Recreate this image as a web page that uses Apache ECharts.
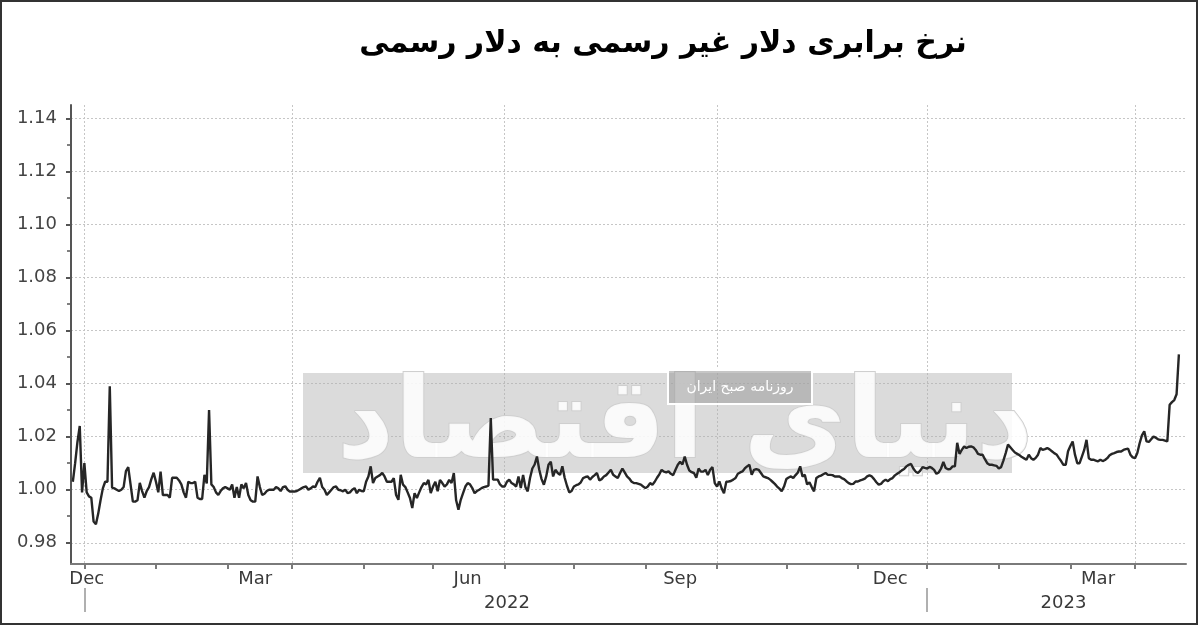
<!DOCTYPE html>
<html><head><meta charset="utf-8">
<script src="https://cdn.jsdelivr.net/npm/echarts@6/dist/echarts.min.js"></script>
<style>html,body{margin:0;padding:0;background:#fff}#c{width:1200px;height:627px}</style>
</head><body><div id="c"></div>
<script>
const titleText = 'نرخ برابری دلار غیر رسمی به دلار رسمی';
const watermarkText = 'دنیای اقتصاد';
const watermarkSub = 'روزنامه صبح ایران';
// daily values starting 2021-11-26
const firstDay = '2021-11-26';
const ratesNov21toFeb22 = [
1.003,1.010,1.018,1.024,0.999,1.010,0.999,0.9975,0.997,0.988,
0.987,0.991,0.996,1.0005,1.003,1.003,1.039,1.0008,1.0005,1.000,
0.9995,1.000,1.001,1.007,1.0085,1.002,0.9955,0.9955,0.996,1.0026,
0.9995,0.997,0.9995,1.001,1.004,1.0064,1.003,0.999,1.0068,0.998,
0.998,0.998,0.997,1.0045,1.0045,1.0045,1.0035,1.002,0.999,0.997,
1.003,1.0025,1.0025,1.003,0.997,0.9965,0.9965,1.0056,1.0024,1.030,
1.002,1.001,0.999,0.998,0.9995,1.0005,1.001,1.0005,1.000,1.002,
0.997,1.001,0.997,1.002,1.0005,1.0025,0.998,0.996,0.9955,0.9955,
1.005,1.001,0.998,0.9985,0.9995,1.000,1.000,1.000,1.001,1.0005,
0.9995,1.001,1.0013,1.000,0.9993];
const ratesMar22toMay22 = [
0.9993,0.9993,0.9995,1.000,1.0005,1.001,1.0012,1.000,1.0005,1.0012,
1.001,1.003,1.0045,1.001,1.000,0.998,0.999,1.000,1.001,1.0012,
1.000,0.9998,0.9994,1.000,0.9987,0.999,1.000,1.0006,0.9987,1.000,
0.9995,0.9994,1.003,1.005,1.0088,1.0025,1.0044,1.005,1.0055,1.0063,
1.005,1.003,1.003,1.003,1.0044,0.998,0.9962,1.0056,1.0019,1.001,
0.999,0.9969,0.9931,0.9987,0.9969,0.999,1.001,1.0025,1.002,1.0037,
0.9987,1.0012,1.003,0.9994,1.0037,1.0025,1.0012,1.002,1.0037,1.0025,
1.0063,0.996,0.9925,0.9962,0.9987,1.0012,1.0025,1.002,1.0006,0.9987,
0.9995,1.000,1.0006,1.001,1.0012,1.0015,1.027,1.0038,1.0038,1.0038,
1.002,1.0012];
const ratesJun22toAug22 = [
1.0012,1.003,1.0038,1.0025,1.002,1.0012,1.005,1.0006,1.0056,1.001,
0.9994,1.0044,1.008,1.0095,1.0125,1.0075,1.004,1.0019,1.005,1.0094,
1.0106,1.005,1.0075,1.0063,1.0056,1.0088,1.0045,1.0015,0.999,0.9995,
1.0012,1.0017,1.002,1.0028,1.0044,1.0048,1.005,1.0038,1.0048,1.0055,
1.0063,1.0035,1.004,1.005,1.0055,1.0065,1.0075,1.0056,1.005,1.0044,
1.0063,1.008,1.0065,1.005,1.0042,1.003,1.0025,1.0025,1.0022,1.0019,
1.0012,1.0006,1.0012,1.0025,1.0019,1.003,1.0045,1.0058,1.0075,1.0068,
1.0065,1.0069,1.006,1.0055,1.0075,1.0094,1.0105,1.0095,1.0125,1.0094,
1.0072,1.0066,1.0063,1.0045,1.008,1.0068,1.0068,1.0075,1.0055,1.0075,
1.0085,1.0025];
const ratesSep22toNov22 = [
1.0012,1.0031,1.0005,0.9987,1.003,1.0031,1.0033,1.0038,1.0044,1.006,
1.0065,1.0069,1.008,1.0088,1.0094,1.0056,1.0075,1.0078,1.0075,1.0063,
1.005,1.0047,1.0044,1.0038,1.003,1.0022,1.0012,1.0004,0.9994,1.0012,
1.004,1.0046,1.005,1.0044,1.0055,1.0065,1.0088,1.005,1.0056,1.002,
1.0028,1.001,0.9994,1.0044,1.005,1.0053,1.0058,1.0063,1.0056,1.0056,
1.0055,1.005,1.005,1.005,1.0044,1.004,1.0032,1.0025,1.0021,1.0022,
1.0031,1.0031,1.0035,1.0038,1.0042,1.005,1.0054,1.005,1.004,1.0028,
1.0019,1.0022,1.0032,1.0038,1.0032,1.004,1.0044,1.0054,1.006,1.0066,
1.0073,1.0078,1.0088,1.0094,1.0097,1.008,1.0068,1.0063,1.0072,1.0085,
1.0082];
const ratesDec22toMar23 = [
1.008,1.0086,1.0082,1.0075,1.006,1.0065,1.008,1.0105,1.0082,1.0077,
1.0078,1.0088,1.0088,1.0177,1.0135,1.015,1.0163,1.0157,1.0162,1.0163,
1.016,1.015,1.0135,1.0132,1.0132,1.0115,1.01,1.0094,1.0094,1.0092,
1.009,1.008,1.0085,1.011,1.0138,1.017,1.016,1.015,1.014,1.0135,
1.013,1.0123,1.0118,1.0113,1.0132,1.0119,1.0113,1.012,1.0132,1.0157,
1.015,1.0153,1.0157,1.0152,1.0145,1.0138,1.0133,1.012,1.0108,1.0094,
1.0094,1.0145,1.0165,1.0182,1.0132,1.01,1.01,1.0125,1.015,1.0188,
1.0119,1.0113,1.0113,1.011,1.0107,1.0113,1.0108,1.0112,1.0119,1.013,
1.0135,1.0138,1.0142,1.0144,1.0144,1.015,1.0153,1.0155,1.0132,1.0122,
1.0119,1.0138,1.0175,1.0205,1.022,1.0182,1.018,1.019,1.02,1.0196,
1.019,1.0188,1.0188,1.0185,1.0182,1.032,1.033,1.0338,1.036,1.051];

const yLabelValues = [0.98,1.00,1.02,1.04,1.06,1.08,1.10,1.12,1.14];
const yMinorTicks = [0.98,0.99,1.00,1.01,1.02,1.03,1.04,1.05,1.06,1.07,1.08,1.09,1.10,1.11,1.12,1.13,1.14];
const quarterStarts = ['2021-12-01','2022-03-01','2022-06-01','2022-09-01','2022-12-01','2023-03-01'];
const monthStarts = ['2021-12-01','2022-01-01','2022-02-01','2022-03-01','2022-04-01','2022-05-01','2022-06-01','2022-07-01','2022-08-01','2022-09-01','2022-10-01','2022-11-01','2022-12-01','2023-01-01','2023-02-01','2023-03-01'];
const monthLabelDates = ['2021-12-02','2022-02-13','2022-05-16','2022-08-16','2022-11-15','2023-02-13'];
const monthLabels = ['Dec','Mar','Jun','Sep','Dec','Mar'];
const yearLabelDates = ['2022-06-02','2023-01-29'];
const yearLabels = ['2022','2023'];
const yearBreaks = ['2021-12-01','2022-12-01'];

function ts(s, h) { const p = s.split('-').map(Number); return new Date(p[0], p[1]-1, p[2], h || 0).getTime(); }
const rates = [].concat(ratesNov21toFeb22, ratesMar22toMay22, ratesJun22toAug22, ratesSep22toNov22, ratesDec22toMar23);
const start = firstDay.split('-').map(Number);
const seriesData = rates.map((v, i) => [new Date(start[0], start[1]-1, start[2] + i).getTime(), v]);

const monthLabelMap = {}; monthLabelDates.forEach((d, i) => monthLabelMap[ts(d)] = monthLabels[i]);
const yearLabelMap = {}; yearLabelDates.forEach((d, i) => yearLabelMap[ts(d)] = yearLabels[i]);

const xMin = ts('2021-11-25', 5), xMax = ts('2023-03-23', 2);
const FONT = 'DejaVu Sans';
const baseX = { type: 'value', min: xMin, max: xMax, gridIndex: 0, position: 'bottom' };

const chart = echarts.init(document.getElementById('c'), null, { renderer: 'canvas' });
chart.setOption({
  animation: false,
  backgroundColor: '#fff',
  title: {
    text: titleText, left: 658, top: 24, textAlign: 'center',
    textStyle: { fontFamily: FONT, fontSize: 30, fontWeight: 'bold', color: '#000' }
  },
  grid: { left: 71, right: 14, top: 105, bottom: 63, containLabel: false },
  xAxis: [
    Object.assign({}, baseX, {
      axisLine: { show: true, lineStyle: { color: '#7a7a7a', width: 2 } },
      axisTick: { show: true, customValues: quarterStarts.map(d => ts(d)), length: 5, lineStyle: { color: '#7a7a7a', width: 2 } },
      splitLine: { show: true, lineStyle: { color: '#c6c6c6', type: [2, 2], width: 1 } },
      axisLabel: { show: true, customValues: monthLabelDates.map(d => ts(d)), margin: 6, fontFamily: FONT, fontSize: 18, color: '#3a3a3a',
        formatter: v => monthLabelMap[v] || '' , hideOverlap: false, showMinLabel: true, showMaxLabel: true}
    }),
    Object.assign({}, baseX, {
      axisLine: { show: false },
      axisTick: { show: true, customValues: monthStarts.map(d => ts(d)), length: 5, lineStyle: { color: '#7a7a7a', width: 2 } },
      splitLine: { show: false }, axisLabel: { show: false }
    }),
    Object.assign({}, baseX, {
      offset: 24,
      axisLine: { show: false },
      axisTick: { show: true, customValues: yearBreaks.map(d => ts(d)), length: 24, lineStyle: { color: '#b0b0b0', width: 2 } },
      splitLine: { show: false },
      axisLabel: { show: true, customValues: yearLabelDates.map(d => ts(d)), margin: 6, fontFamily: FONT, fontSize: 18, color: '#3a3a3a',
        formatter: v => yearLabelMap[v] || '', hideOverlap: false }
    })
  ],
  yAxis: [
    {
      type: 'value', min: 0.972, max: 1.145, position: 'left',
      axisLine: { show: true, lineStyle: { color: '#555', width: 2 } },
      axisTick: { show: true, customValues: yLabelValues, length: 5, lineStyle: { color: '#555', width: 2 } },
      splitLine: { show: true, lineStyle: { color: '#c6c6c6', type: [2, 2], width: 1 } },
      axisLabel: { show: true, customValues: yLabelValues, margin: 14, fontFamily: FONT, fontSize: 18, color: '#444',
        formatter: v => Number(v).toFixed(2) }
    },
    {
      type: 'value', min: 0.972, max: 1.145, position: 'left',
      axisLine: { show: false },
      axisTick: { show: true, customValues: yMinorTicks, length: 4, lineStyle: { color: '#555', width: 1.5 } },
      splitLine: { show: false }, axisLabel: { show: false }
    }
  ],
  graphic: [
    { type: 'rect', z: 1, silent: true, shape: { x: 303, y: 373, width: 709, height: 100 }, style: { fill: 'rgba(175,175,175,0.45)' } },
    { type: 'text', z: 1, silent: true, x: 685, y: 428, style: { text: watermarkText, fontFamily: FONT, fontSize: 112, fontWeight: 'bold', fill: 'rgba(255,255,255,0.85)', stroke: '#cfcfcf', lineWidth: 2, textAlign: 'center', textVerticalAlign: 'middle' } },
    { type: 'rect', z: 1, silent: true, shape: { x: 668, y: 370, width: 144, height: 34 }, style: { fill: 'rgba(160,160,160,0.6)', stroke: '#fff', lineWidth: 2 } },
    { type: 'text', z: 1, silent: true, x: 740, y: 387, style: { text: watermarkSub, fontFamily: FONT, fontSize: 14, fill: '#fff', textAlign: 'center', textVerticalAlign: 'middle' } },
    { type: 'rect', z: 10, silent: true, shape: { x: 1, y: 1, width: 1196, height: 623 }, style: { fill: 'none', stroke: '#333', lineWidth: 2 } }
  ],
  series: [{
    type: 'line', xAxisIndex: 0, yAxisIndex: 0, z: 3,
    data: seriesData, showSymbol: false, symbol: 'none',
    lineStyle: { color: '#262626', width: 2.4 }
  }]
});
</script></body></html>
